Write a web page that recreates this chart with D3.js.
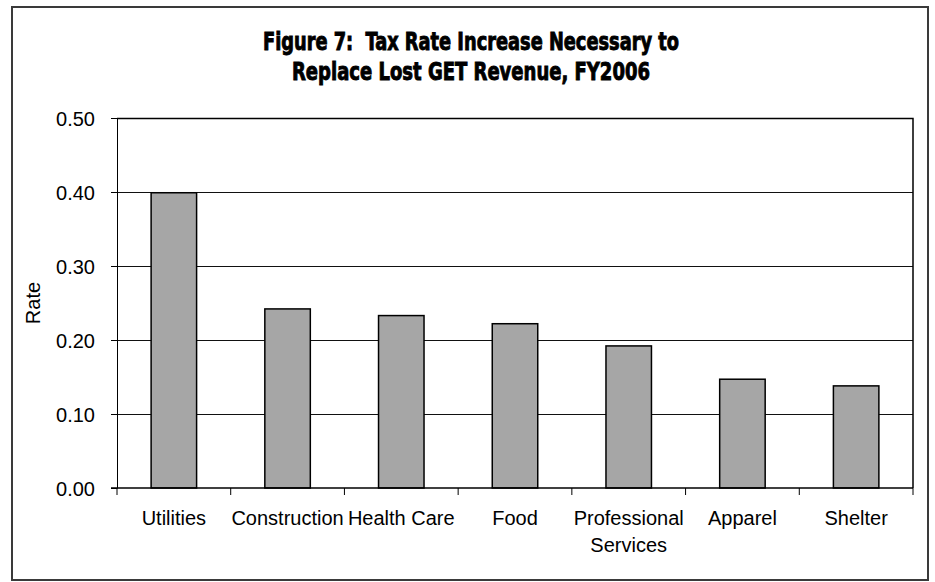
<!DOCTYPE html>
<html>
<head>
<meta charset="utf-8">
<script src="https://cdn.jsdelivr.net/npm/d3@7"></script>
<style>
  body { margin: 0; background: #fff; }
  svg { display: block; }
  .axis text { font-family: "Liberation Sans", Arial, sans-serif; font-size: 20px; fill: #000; }
  .axis path, .axis line { stroke: #000; }
</style>
</head>
<body>
<svg width="935" height="582"></svg>
<script>
// chart values
var categories = ["Utilities", "Construction", "Health Care", "Food", "Professional Services", "Apparel", "Shelter"];
var rates = [0.399, 0.242, 0.233, 0.222, 0.192, 0.147, 0.138];
var yTicks = [0, 0.1, 0.2, 0.3, 0.4, 0.5];
var titleLines = ["Figure 7:  Tax Rate Increase Necessary to", "Replace Lost GET Revenue, FY2006"];

var data = categories.map(function(c, i) { return { name: c, value: rates[i] }; });

var svgWidth = 935, svgHeight = 582;
var margin = { top: 118, right: 22, bottom: 94, left: 117 };
var width = svgWidth - margin.left - margin.right;
var height = svgHeight - margin.top - margin.bottom;

var svg = d3.select("svg");

// outer frame
svg.append("rect")
  .attr("x", 12).attr("y", 7)
  .attr("width", 916).attr("height", 573)
  .attr("fill", "#fff")
  .attr("stroke", "#3a3a3a")
  .attr("stroke-width", 2);

// title
svg.selectAll(".title")
  .data(titleLines)
  .enter().append("text")
  .attr("class", "title")
  .attr("x", 471)
  .attr("y", function(d, i) { return 50 + i * 30; })
  .attr("text-anchor", "middle")
  .attr("textLength", function(d, i) { return i == 0 ? 416 : 358; })
  .attr("lengthAdjust", "spacingAndGlyphs")
  .style("white-space", "pre")
  .style("font-family", "'Liberation Sans Narrow', 'DejaVu Sans Condensed', sans-serif")
  .style("font-weight", "bold")
  .style("font-size", "25px")
  .style("stroke", "#000")
  .style("stroke-width", 0.9)
  .text(function(d) { return d; });

var g = svg.append("g")
  .attr("transform", "translate(" + margin.left + "," + margin.top + ")");

var x = d3.scaleBand().domain(categories).range([0, width]).paddingInner(0.6).paddingOuter(0.3);
var y = d3.scaleLinear().domain([0, 0.5]).range([height, 0]);

// gridlines
g.selectAll(".grid")
  .data(yTicks.slice(1, -1))
  .enter().append("line")
  .attr("x1", 0).attr("x2", width)
  .attr("y1", function(d) { return Math.round(y(d)) + 0.5; })
  .attr("y2", function(d) { return Math.round(y(d)) + 0.5; })
  .attr("stroke", "#111")
  .attr("stroke-width", 1);

// bars
g.selectAll(".bar")
  .data(data)
  .enter().append("rect")
  .attr("class", "bar")
  .attr("x", function(d) { return x(d.name); })
  .attr("y", function(d) { return y(d.value); })
  .attr("width", x.bandwidth())
  .attr("height", function(d) { return height - y(d.value); })
  .attr("fill", "#a6a6a6")
  .attr("stroke", "#000")
  .attr("stroke-width", 1.5);

// plot frame (top/right)
g.append("path")
  .attr("d", "M0,0.5H" + width + "V" + height)
  .attr("fill", "none")
  .attr("stroke", "#000")
  .attr("stroke-width", 1.5);

// y axis
var yAxis = g.append("g")
  .attr("class", "axis")
  .call(d3.axisLeft(y).tickValues(yTicks).tickFormat(d3.format(".2f")).tickSizeInner(6).tickSizeOuter(0).tickPadding(16));
yAxis.selectAll("text").attr("dy", "0.36em");

// x axis: ticks at band edges
var edges = d3.scaleLinear().domain([0, categories.length]).range([0, width]);
var xAxisG = g.append("g")
  .attr("class", "axis")
  .attr("transform", "translate(0," + height + ")");
xAxisG.append("line")
  .attr("x1", -6).attr("x2", width)
  .attr("stroke", "#000").attr("stroke-width", 1.5);
xAxisG.selectAll(".edge")
  .data(d3.range(categories.length + 1))
  .enter().append("line")
  .attr("x1", function(d) { return edges(d); })
  .attr("x2", function(d) { return edges(d); })
  .attr("y1", 0).attr("y2", 7)
  .attr("stroke", "#000");

var labels = xAxisG.selectAll(".lbl")
  .data(categories)
  .enter().append("text")
  .attr("text-anchor", "middle")
  .attr("transform", function(d) { return "translate(" + (x(d) + x.bandwidth() / 2) + ",37)"; });
labels.each(function(d) {
  var words = d == "Professional Services" ? ["Professional", "Services"] : [d];
  d3.select(this).selectAll("tspan")
    .data(words)
    .enter().append("tspan")
    .attr("x", 0)
    .attr("dy", function(w, i) { return i == 0 ? 0 : 27; })
    .text(function(w) { return w; });
});

// y label
g.append("text")
  .attr("class", "axis")
  .attr("transform", "translate(-77," + (height / 2) + ") rotate(-90)")
  .attr("text-anchor", "middle")
  .style("font-family", "'Liberation Sans', Arial, sans-serif")
  .style("font-size", "20px")
  .text("Rate");
</script>
</body>
</html>
